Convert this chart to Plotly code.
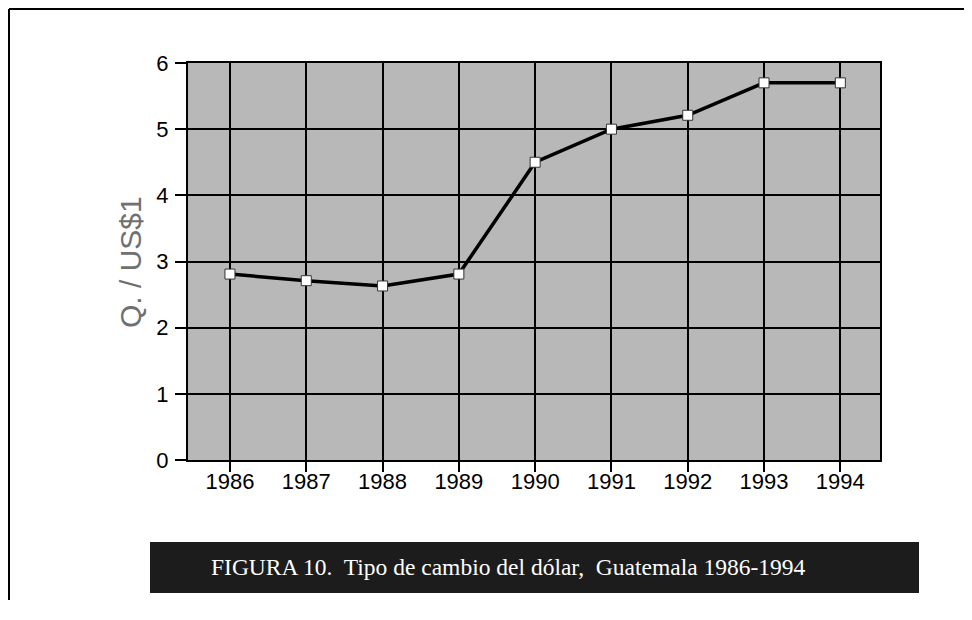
import plotly.graph_objects as go

years = ["1986", "1987", "1988", "1989", "1990", "1991", "1992", "1993", "1994"]
rate = [2.81, 2.71, 2.63, 2.81, 4.5, 5.0, 5.21, 5.7, 5.7]
y_ticks = [0, 1, 2, 3, 4, 5, 6]
y_title = "Q. / US$1"
caption = "FIGURA 10.  Tipo de cambio del dólar,  Guatemala 1986-1994"

W, H = 972, 620
OFF = 8  # page body margin
# plot area in screen pixels
L, R, T, B = 188, 880, 63, 460


def px(x):
    return (x - L) / (R - L)


def py(y):
    return (B - y) / (B - T)


fig = go.Figure()
fig.add_trace(go.Scatter(
    x=years, y=rate, mode="lines+markers",
    line=dict(color="black", width=3.5),
    marker=dict(symbol="square", size=10, color="white",
                line=dict(color="#333333", width=1)),
    showlegend=False, cliponaxis=False,
))

fig.update_layout(
    width=W, height=H, autosize=False,
    margin=dict(l=L - OFF, r=W - (R - OFF), t=T - OFF, b=H - (B - OFF)),
    paper_bgcolor="white",
    plot_bgcolor="#b8b8b8",
    font=dict(family="Liberation Sans, Arial, sans-serif", color="black"),
    xaxis=dict(
        type="category", range=[-0.55, 8.52],
        showgrid=True, gridcolor="black", gridwidth=2,
        ticks="outside", ticklen=10, tickwidth=2, tickcolor="black",
        tickfont=dict(size=22, color="black"),
        ticklabelstandoff=-9,
        showline=True, linecolor="black", linewidth=2, mirror=True,
        zeroline=False,
    ),
    yaxis=dict(
        range=[0, 6], tickvals=y_ticks,
        showgrid=True, gridcolor="black", gridwidth=2,
        ticks="outside", ticklen=11, tickwidth=2, tickcolor="black",
        tickfont=dict(size=22, color="black"),
        ticklabelstandoff=2,
        showline=True, linecolor="black", linewidth=2, mirror=True,
        zeroline=False,
    ),
)

# y axis title
fig.add_annotation(
    text=y_title, x=px(131), y=py(262), xref="paper", yref="paper",
    xanchor="center", yanchor="middle",
    textangle=-90, showarrow=False,
    font=dict(size=30, color="#707070", family="Liberation Sans, Arial, sans-serif"),
)

# outer frame (top, left, right)
frame = dict(color="black", width=2)
fig.add_shape(type="line", xref="paper", yref="paper",
              x0=px(9), x1=px(966), y0=py(9), y1=py(9), line=frame)
fig.add_shape(type="line", xref="paper", yref="paper",
              x0=px(9), x1=px(9), y0=py(9), y1=py(600), line=frame)
fig.add_shape(type="line", xref="paper", yref="paper",
              x0=px(966), x1=px(966), y0=py(9), y1=py(535), line=frame)

# caption bar
fig.add_shape(type="rect", xref="paper", yref="paper",
              x0=px(150), x1=px(919), y0=py(542), y1=py(593),
              fillcolor="#1c1c1c", line=dict(width=0), layer="below")
fig.add_annotation(
    text=caption, x=px(508), y=py(567), xref="paper", yref="paper",
    xanchor="center", yanchor="middle",
    showarrow=False,
    font=dict(size=23.5, color="white", family="Liberation Serif, Times New Roman, serif"),
)

fig.write_html("out.html")
